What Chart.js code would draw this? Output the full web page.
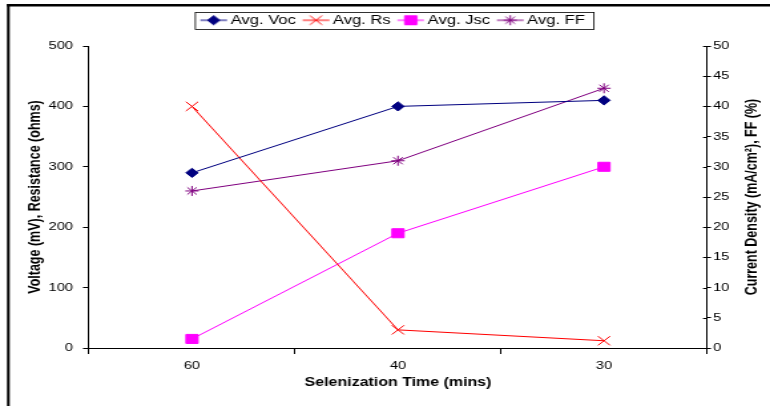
<!DOCTYPE html>
<html>
<head>
<meta charset="utf-8">
<script src="https://cdn.jsdelivr.net/npm/chart.js@4"></script>
<style>
  body { margin: 0; background: #fff; }
  canvas { display: block; }
</style>
</head>
<body>
<!-- the original figure is stretched sideways, so the canvas is drawn narrow and widened by css -->
<canvas id="selChart" width="579" height="406" style="width:770px;height:406px"></canvas>
<script>
// values
const times = ['60', '40', '30'];
const avgVoc = [290, 400, 410];
const avgRs = [400, 30, 12];
const avgJsc = [1.5, 19, 30];
const avgFF = [26, 31, 43];

const leftMax = 500, leftStep = 100;
const rightMax = 50, rightStep = 5;

const seriesNames = ['Avg. Voc', 'Avg. Rs', 'Avg. Jsc', 'Avg. FF'];
const seriesColors = ['#000080', '#FF0000', '#FF00FF', '#800080'];
const seriesMarkers = ['rectRot', 'crossRot', 'rect', 'star'];
const markerSizes = [4.6, 6.5, 6.4, 5];

const fontName = '"Liberation Sans", Arial, sans-serif';
const SX = 770 / 579;          // sideways stretch of the picture
function px(v) { return v / SX; } // screen px -> canvas px (horizontal only)

// legend symbol sizes (canvas px)
const iconW = 20;     // drawn line + marker
const legBox = 16.5;  // room chart.js reserves before the text
const imgW = 24;

// little line + marker picture used in the legend
function legendIcon(i) {
    var c = document.createElement('canvas');
    c.width = imgW;
    c.height = 14;
    var g = c.getContext('2d');
    var x0 = imgW / 2 - legBox / 2;
    g.strokeStyle = seriesColors[i];
    g.fillStyle = seriesColors[i];
    g.lineWidth = 1;
    g.beginPath();
    g.moveTo(x0, 7);
    g.lineTo(x0 + iconW, 7);
    g.stroke();
    Chart.helpers.drawPoint(g, { pointStyle: seriesMarkers[i], radius: markerSizes[i], borderWidth: 1, rotation: 0 }, x0 + iconW / 2, 7);
    return c;
}

function makeSet(i, values, axis) {
    return {
        label: seriesNames[i],
        data: values,
        yAxisID: axis,
        borderColor: seriesColors[i],
        backgroundColor: seriesColors[i],
        borderWidth: 1,
        pointStyle: seriesMarkers[i],
        pointRadius: markerSizes[i],
        pointBorderWidth: 1,
        pointBorderColor: seriesColors[i],
        pointBackgroundColor: seriesColors[i],
        tension: 0
    };
}

// frame, legend box, right title, inner ticks on right axis
const extras = {
    id: 'extras',
    afterLayout: function(chart) {
        var lg = chart.legend;
        lg.top -= 9.5; lg.bottom -= 9.5;
        lg.left += 2; lg.right += 2;
    },
    beforeDraw: function(chart) {
        var ctx = chart.ctx;
        ctx.save();
        ctx.fillStyle = '#fff';
        ctx.fillRect(0, 0, chart.width, chart.height);
        ctx.fillStyle = '#000';
        ctx.fillRect(px(7), 4, chart.width, 2.5);
        ctx.fillRect(px(7), 4, px(2.7), chart.height - 4);
        ctx.restore();
    },
    afterDraw: function(chart) {
        var ctx = chart.ctx;
        var area = chart.chartArea;
        ctx.save();

        // legend border
        var boxes = chart.legend.legendHitBoxes;
        if (boxes && boxes.length) {
            var l = Math.min.apply(null, boxes.map(b => b.left));
            var r = Math.max.apply(null, boxes.map(b => b.left + b.width));
            ctx.strokeStyle = '#000';
            ctx.lineWidth = 0.8;
            ctx.strokeRect(l - px(5), 12.5, r - l + px(14), 17);
        }

        // inner half of the right axis ticks
        var y1 = chart.scales.y1;
        ctx.strokeStyle = '#000';
        ctx.lineWidth = 1;
        y1.ticks.forEach(function(t) {
            var py = Math.round(y1.getPixelForValue(t.value)) + 0.5;
            ctx.beginPath();
            ctx.moveTo(y1.left - px(4), py);
            ctx.lineTo(y1.left, py);
            ctx.stroke();
        });

        // right axis title, reading upward
        ctx.fillStyle = '#000';
        ctx.font = 'bold 12.5px ' + fontName;
        ctx.textAlign = 'center';
        ctx.textBaseline = 'middle';
        ctx.translate(px(752), (area.top + area.bottom) / 2);
        ctx.rotate(-Math.PI / 2);
        ctx.fillText('Current Density (mA/cm\u00B2), FF (%)', 0, 0);
        ctx.restore();
    }
};

const ctx = document.getElementById('selChart').getContext('2d');
const selChart = new Chart(ctx, {
    type: 'line',
    data: {
        labels: times,
        datasets: [
            makeSet(0, avgVoc, 'y'),
            makeSet(1, avgRs, 'y'),
            makeSet(2, avgJsc, 'y1'),
            makeSet(3, avgFF, 'y1')
        ]
    },
    options: {
        responsive: false,
        animation: false,
        devicePixelRatio: 1,
        layout: { padding: { top: 18.5, left: px(10), right: 0, bottom: 0 } },
        plugins: {
            tooltip: { enabled: false },
            legend: {
                position: 'top',
                labels: {
                    usePointStyle: true,
                    pointStyleWidth: legBox,
                    padding: 5,
                    color: '#000',
                    font: { family: fontName, size: 12.5 },
                    generateLabels: function(chart) {
                        return chart.data.datasets.map(function(ds, i) {
                            return {
                                text: ds.label,
                                pointStyle: legendIcon(i),
                                fillStyle: seriesColors[i],
                                strokeStyle: seriesColors[i],
                                lineWidth: 0,
                                fontColor: '#000',
                                hidden: false,
                                datasetIndex: i
                            };
                        });
                    }
                }
            }
        },
        scales: {
            x: {
                offset: true,
                grid: { display: true, offset: true, drawOnChartArea: false, drawTicks: true, tickLength: 6, color: '#000' },
                border: { display: true, color: '#000', width: 1 },
                ticks: { color: '#000', font: { family: fontName, size: 11 }, padding: 5 },
                title: {
                    display: true,
                    text: 'Selenization Time (mins)',
                    color: '#000',
                    font: { family: fontName, size: 12, weight: 'bold' },
                    padding: { top: 0, bottom: 16 }
                },
                afterFit: function(s) { s.height = 58; }
            },
            y: {
                position: 'left',
                min: 0,
                max: leftMax,
                ticks: { stepSize: leftStep, color: '#000', font: { family: fontName, size: 11 }, padding: px(10) },
                grid: { drawOnChartArea: false, tickLength: px(6), color: '#000' },
                border: { display: true, color: '#000', width: 1 },
                title: {
                    display: true,
                    text: 'Voltage (mV), Resistance (ohms)',
                    color: '#000',
                    font: { family: fontName, size: 12.5, weight: 'bold' },
                    padding: { top: px(25) - 7.5, bottom: 0 }
                },
                afterFit: function(s) { s.width = px(79); }
            },
            y1: {
                position: 'right',
                min: 0,
                max: rightMax,
                ticks: { stepSize: rightStep, color: '#000', font: { family: fontName, size: 11 }, padding: px(2) },
                grid: { drawOnChartArea: false, tickLength: px(4), color: '#000' },
                border: { display: true, color: '#000', width: 1 },
                afterFit: function(s) { s.width = px(63); }
            }
        }
    },
    plugins: [extras]
});
</script>
</body>
</html>
